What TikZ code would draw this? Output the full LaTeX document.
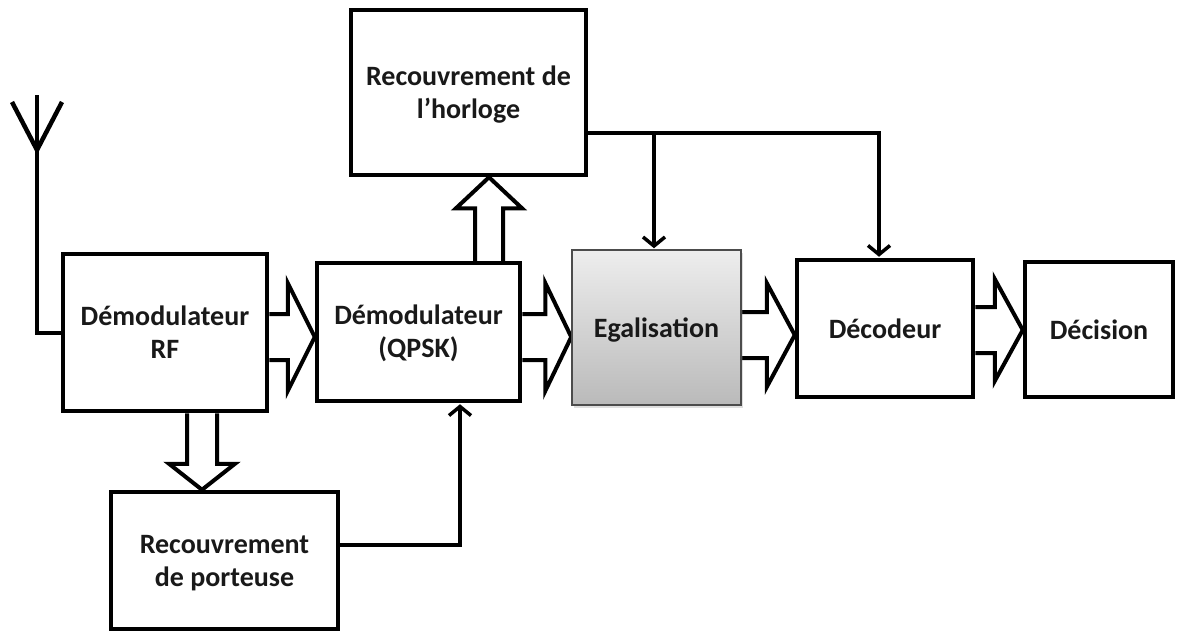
\documentclass[tikz,border=0pt]{standalone}
\usepackage{fontspec}
\setmainfont{Carlito}
\usetikzlibrary{arrows.meta,calc,shadows,backgrounds}

% hollow block arrows: start point, tip point, shaft half width, head half width, head length
\newcommand\fatright[5]{%
  \draw[fat] let \p1=(#1), \p2=(#2) in
    (\x1,\y1+#3pt) -- (\x2-#5pt,\y1+#3pt) -- (\x2-#5pt,\y1+#4pt) -- (\x2,\y1)
    -- (\x2-#5pt,\y1-#4pt) -- (\x2-#5pt,\y1-#3pt) -- (\x1,\y1-#3pt);}
\newcommand\fatup[5]{%
  \draw[fat] let \p1=(#1), \p2=(#2) in
    (\x1-#3pt,\y1) -- (\x1-#3pt,\y2-#5pt) -- (\x1-#4pt,\y2-#5pt) -- (\x1,\y2)
    -- (\x1+#4pt,\y2-#5pt) -- (\x1+#3pt,\y2-#5pt) -- (\x1+#3pt,\y1);}
\newcommand\fatdown[5]{%
  \draw[fat] let \p1=(#1), \p2=(#2) in
    (\x1-#3pt,\y1) -- (\x1-#3pt,\y2+#5pt) -- (\x1-#4pt,\y2+#5pt) -- (\x1,\y2)
    -- (\x1+#4pt,\y2+#5pt) -- (\x1+#3pt,\y2+#5pt) -- (\x1+#3pt,\y1);}

\begin{document}
\begin{tikzpicture}[x=1pt,y=-1pt,
  labeltext/.style={font=\fontsize{28}{33}\selectfont\bfseries, text=black!90},
  block/.style={draw=black, line width=4.5pt, fill=white, align=center,
    labeltext, inner sep=0pt},
  shaded block/.style={draw=black!70, line width=1.5pt, align=center,
    top color=black!7, bottom color=black!27,
    drop shadow={opacity=0.25, shadow xshift=1.5pt, shadow yshift=-3pt},
    labeltext, inner sep=0pt},
  link/.style={line width=3.5pt, line join=miter, shorten >=1pt,
    -{Straight Barb[length=9pt,width=22pt]}},
  fat/.style={draw=black, line width=4pt, fill=white, line join=miter},
  wire/.style={line width=4.5pt, line join=miter}
]
\useasboundingbox (0,0) rectangle (1177,633);

% processing blocks (a reduced text depth sets the labels a little low)
\node[block, minimum width=204pt, minimum height=157pt, text depth=-12pt] (rf)   at (165,332.5) {Démodulateur\\RF};
\node[block, minimum width=203pt, minimum height=138pt, text depth=1pt] (qpsk) at (418.5,332) {Démodulateur\\(QPSK)};
\node[block, minimum width=235pt, minimum height=165pt, text depth=-6pt] (horl) at (468.5,92.5) {Recouvrement de\\l’horloge};
\node[shaded block, minimum width=169pt, minimum height=155pt, text depth=-3pt] (egal) at (656.5,327.5) {Egalisation};
\node[block, minimum width=176pt, minimum height=137pt] (dec)  at (885,328.5) {Décodeur};
\node[block, minimum width=148pt, minimum height=135pt] (deci) at (1099,329.5) {Décision};
\node[block, minimum width=227pt, minimum height=137pt, text depth=-6pt] (port) at (224.5,560.5) {Recouvrement\\de porteuse};

% hollow data-path arrows, kept behind the blocks
\begin{pgfonlayer}{background}
  \coordinate (a1s) at (rf.east |- 0,337);   \coordinate (a1e) at (qpsk.west |- 0,337);
  \coordinate (a2s) at (qpsk.east |- 0,337); \coordinate (a2e) at (egal.west |- 0,337);
  \coordinate (a3s) at (egal.east |- 0,335); \coordinate (a3e) at (dec.west |- 0,335);
  \coordinate (a4s) at (dec.east |- 0,330);  \coordinate (a4e) at (deci.west |- 0,330);
  \fatright{a1s}{a1e}{23}{54}{27}
  \fatright{a2s}{a2e}{23}{54}{26}
  \fatright{a3s}{a3e}{23}{52}{28}
  \fatright{a4s}{a4e}{23}{51}{28}
  \coordinate (a5s) at (489,0 |- qpsk.north); \coordinate (a5e) at (489,0 |- horl.south);
  \fatup{a5s}{a5e}{14}{33}{31}
  \coordinate (a6s) at (202,0 |- rf.south);   \coordinate (a6e) at (202,0 |- port.north);
  \fatdown{a6s}{a6e}{15}{33}{26}
\end{pgfonlayer}

% clock recovery feeds equaliser and decoder
\coordinate (hj) at (879,133);
\coordinate (hb) at (654,133);
\draw[link] (horl.east |- hj) -- (hj) -- (hj |- dec.north);
\draw[link] (hb) -- (hb |- egal.north);

% carrier recovery feeds QPSK demodulator
\coordinate (pc) at (460,545);
\draw[link] (port.east |- pc) -- (pc) -- (pc |- qpsk.south);

% antenna
\coordinate (ant) at (37,333);
\coordinate (antTop) at (37,95);
\draw[wire] (rf.west |- ant) -- (ant) -- (antTop);
\draw[wire] (12,102) -- (37,150) -- (62,102);
\end{tikzpicture}
\end{document}
